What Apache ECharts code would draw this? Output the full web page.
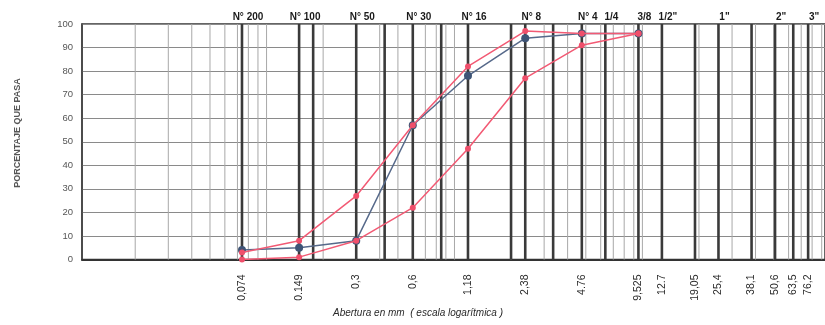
<!DOCTYPE html>
<html>
<head>
<meta charset="utf-8">
<script src="https://cdn.jsdelivr.net/npm/echarts@6/dist/echarts.min.js"></script>
<style>html,body{margin:0;padding:0;background:#fff}#c{width:825px;height:325px}</style>
</head>
<body>
<div id="c"></div>
<script>
// Sieve openings (mm) of the measured points
const sizes = [0.074, 0.149, 0.3, 0.6, 1.18, 2.38, 4.76, 9.525];
// Sample grading (% passing)
const sample = [4, 5, 8, 57, 78, 94, 96, 96];
// Upper specification limit
const upperLimit = [3, 8, 27, 57, 82, 97, 96, 96];
// Lower specification limit
const lowerLimit = [0, 1, 8, 22, 47, 77, 91, 96];

// Bottom tick labels (opening in mm)
const bottomTickValues = [0.074, 0.149, 0.3, 0.6, 1.18, 2.38, 4.76, 9.525, 12.7, 19.05, 25.4, 38.1, 50.8, 63.5, 76.2];
const bottomTickLabels = ["0,074", "0.149", "0,3", "0,6", "1,18", "2,38", "4.76", "9,525", "12.7", "19,05", "25,4", "38,1", "50,6", "63,5", "76,2"];
// Top tick labels (sieve designations)
const topTickValues = [0.074, 0.149, 0.3, 0.6, 1.18, 2.38, 4.76, 6.35, 9.525, 12.7, 25.4, 50.8, 76.2];
const topTickLabels = ["N° 200", "N° 100", "N° 50", "N° 30", "N° 16", "N° 8", "N° 4", "1/4", "3/8", "1/2\"", "1\"", "2\"", "3\""];
// Heavy vertical lines (sieve openings printed on the form)
const sieveLines = [0.074, 0.149, 0.177, 0.3, 0.425, 0.6, 0.85, 1.18, 2.0, 2.38, 3.35, 4.76, 6.35, 9.525, 12.7, 19.05, 25.4, 38.1, 50.8, 63.5, 76.2];
// Light logarithmic grid lines
const logGrid = [0.02, 0.03, 0.04, 0.05, 0.06, 0.07, 0.08, 0.09, 0.1, 0.2, 0.3, 0.4, 0.5, 0.6, 0.7, 0.8, 0.9,
  1, 2, 3, 4, 5, 6, 7, 8, 9, 10, 20, 30, 40, 50, 60, 70, 80, 90];
const yTicks = [0, 10, 20, 30, 40, 50, 60, 70, 80, 90, 100];

const chart = echarts.init(document.getElementById('c'), null, {renderer: 'canvas'});

function vLine(color, width) {
  return function (params, api) {
    const x = api.value(0);
    const p0 = api.coord([x, 0]);
    const p1 = api.coord([x, 100]);
    return {type: 'line', shape: {x1: p0[0], y1: p0[1], x2: p1[0], y2: p1[1]},
      style: {stroke: color, lineWidth: width}};
  };
}

const option = {
  animation: false,
  backgroundColor: '#ffffff',
  grid: {left: 82, right: -5, top: 24, bottom: 65.5, show: true, borderColor: '#333', borderWidth: 1.5},
  xAxis: {
    type: 'log', logBase: 10, min: 0.01042, max: 93.7,
    axisLabel: {show: false}, axisTick: {show: false}, splitLine: {show: false},
    axisLine: {show: true, lineStyle: {color: '#333', width: 2}}
  },
  yAxis: {
    type: 'value', min: 0, max: 100, interval: 10,
    axisLabel: {color: '#555', fontSize: 9.5, margin: 9, fontFamily: 'Liberation Sans'},
    axisTick: {show: false},
    axisLine: {show: true, lineStyle: {color: '#444', width: 1.5}},
    splitLine: {show: true, lineStyle: {color: '#8a8a8a', width: 1}}
  },
  graphic: [
    {type: 'text', x: 18, y: 133, rotation: Math.PI / 2,
      style: {text: 'PORCENTAJE QUE PASA', fill: '#555', font: 'bold 9px "Liberation Sans"', textAlign: 'center', textVerticalAlign: 'middle'}},
    {type: 'text', x: 418, y: 313,
      style: {text: 'Abertura en mm  ( escala logarítmica )', fill: '#2a2a2a', font: 'italic 10px "Liberation Sans"', textAlign: 'center', textVerticalAlign: 'middle'}}
  ],
  series: [
    {type: 'custom', name: 'logGrid', z: 1, silent: true, clip: false,
      encode: {x: 0, y: 1},
      data: logGrid.map(v => [v, 0]), renderItem: vLine('#a8a8a8', 1)},
    {type: 'custom', name: 'sieveLines', z: 2, silent: true, clip: false,
      encode: {x: 0, y: 1},
      data: sieveLines.map(v => [v, 0]), renderItem: vLine('#3a3a3a', 2.6)},
    {type: 'custom', name: 'bottomLabels', z: 3, silent: true, clip: false,
      encode: {x: 0, y: 1},
      data: bottomTickValues.map((v, i) => [v, 0, i]),
      renderItem: function (params, api) {
        const p = api.coord([api.value(0), 0]);
        return {type: 'text', x: p[0], y: p[1] + 15, rotation: Math.PI / 2,
          style: {text: bottomTickLabels[api.value(2)], fill: '#2a2a2a', font: '10.5px "Liberation Sans"',
            textAlign: 'right', textVerticalAlign: 'middle'}};
      }},
    {type: 'custom', name: 'topLabels', z: 3, silent: true, clip: false,
      encode: {x: 0, y: 1},
      data: topTickValues.map((v, i) => [v, 100, i]),
      renderItem: function (params, api) {
        const p = api.coord([api.value(0), 100]);
        return {type: 'text', x: p[0] + 6, y: p[1] - 7,
          style: {text: topTickLabels[api.value(2)], fill: '#1a1a1a', font: 'bold 10px "Liberation Sans"',
            textAlign: 'center', textVerticalAlign: 'middle'}};
      }},
    {type: 'line', name: 'Muestra', z: 5, data: sizes.map((s, i) => [s, sample[i]]),
      symbol: 'circle', symbolSize: 8,
      lineStyle: {color: '#56698a', width: 1.5},
      itemStyle: {color: '#3e5476'}},
    {type: 'line', name: 'Límite superior', z: 6, data: sizes.map((s, i) => [s, upperLimit[i]]),
      symbol: 'circle', symbolSize: 6,
      lineStyle: {color: '#f25a74', width: 1.5},
      itemStyle: {color: '#ef4f6b'}},
    {type: 'line', name: 'Límite inferior', z: 6, data: sizes.map((s, i) => [s, lowerLimit[i]]),
      symbol: 'circle', symbolSize: 6,
      lineStyle: {color: '#f25a74', width: 1.5},
      itemStyle: {color: '#ef4f6b'}}
  ]
};
chart.setOption(option);
</script>
</body>
</html>
